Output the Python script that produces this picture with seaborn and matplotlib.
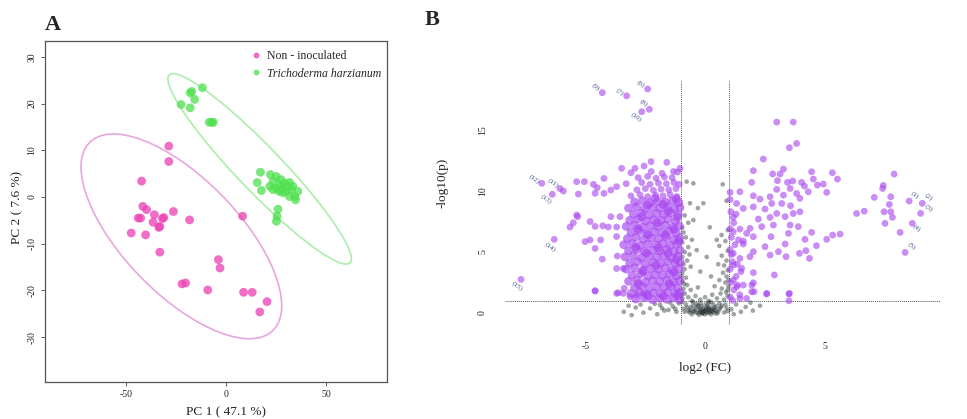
import numpy as np
import pandas as pd
import matplotlib
matplotlib.use("Agg")
import matplotlib.pyplot as plt
import seaborn as sns
from matplotlib.patches import Ellipse
from matplotlib.lines import Line2D

# ---------------- Panel A data (PCA scores) ----------------
pink_pc1 = [-28.6, -28.6, -42.2, -41.6, -39.7, -43.9, -42.7, -35.8, -36.5, -33.6,
            -33.1, -31.1, -31.8, -26.3, -47.4, -40.2, -33.1, -18.2, 8.3, -3.8,
            -3.0, -22.0, -20.2, -9.1, 8.8, 13.1, 20.5, 16.9]
pink_pc2 = [10.9, 7.6, 3.4, -2.0, -2.7, -4.5, -4.5, -3.8, -5.4, -6.5,
            -6.3, -4.4, -4.6, -3.1, -7.7, -8.1, -11.8, -4.9, -4.1, -13.4,
            -15.2, -18.6, -18.4, -19.9, -20.4, -20.4, -22.4, -24.6]
green_pc1 = [-17.1, -17.9, -11.8, -15.7, -22.5, -17.9, -8.4, -7.1, -6.3,
             17.2, 15.6, 17.7, 22.2, 25.2, 27.6, 23.5, 26.8, 29.3, 31.8, 33.4,
             35.9, 34.4, 31.8, 30.1, 27.6, 25.2, 21.9, 23.5, 28.5, 26.5, 32.6,
             30.5, 34.8, 26.0, 25.5, 25.2]
green_pc2 = [22.6, 22.3, 23.4, 20.9, 19.8, 19.1, 16.0, 16.0, 16.0,
             5.3, 3.1, 1.4, 4.8, 4.4, 3.7, 3.4, 2.6, 3.0, 3.1, 2.3,
             1.2, 0.1, 0.1, 1.2, 1.7, 1.9, 2.3, 1.6, 0.9, 1.2, 1.6,
             2.3, -0.6, -2.6, -4.1, -5.2]
groups = ["Non - inoculated", "Trichoderma harzianum"]

# ---------------- Panel B data (volcano) ----------------
# dense core of significant down-regulated features: (log2FC, -log10 p)
purple_core = [
    (-2.9, 1.15), (-2.55, 1.25), (-2.2, 1.1), (-1.9, 1.2), (-1.6, 1.12), (-1.3, 1.25), (-1.08, 1.1),
    (-3.1, 1.6), (-2.75, 1.7), (-2.45, 1.55), (-2.15, 1.65), (-1.85, 1.58), (-1.55, 1.7), (-1.25, 1.6), (-1.05, 1.68),
    (-2.95, 2.1), (-2.65, 2.2), (-2.35, 2.05), (-2.02, 2.15), (-1.72, 2.1), (-1.42, 2.2), (-1.15, 2.05),
    (-3.2, 2.6), (-2.85, 2.7), (-2.5, 2.55), (-2.2, 2.65), (-1.9, 2.6), (-1.6, 2.7), (-1.32, 2.55), (-1.06, 2.65),
    (-3.05, 3.1), (-2.7, 3.2), (-2.38, 3.05), (-2.08, 3.15), (-1.78, 3.1), (-1.48, 3.2), (-1.2, 3.05),
    (-3.3, 3.6), (-2.95, 3.7), (-2.6, 3.55), (-2.28, 3.65), (-1.96, 3.6), (-1.66, 3.7), (-1.38, 3.55), (-1.08, 3.65),
    (-3.15, 4.1), (-2.82, 4.2), (-2.5, 4.05), (-2.18, 4.15), (-1.86, 4.1), (-1.55, 4.2), (-1.25, 4.05), (-1.04, 4.15),
    (-3.35, 4.6), (-3.0, 4.7), (-2.66, 4.55), (-2.34, 4.65), (-2.02, 4.6), (-1.72, 4.7), (-1.42, 4.55), (-1.14, 4.65),
    (-3.2, 5.1), (-2.86, 5.2), (-2.54, 5.05), (-2.2, 5.15), (-1.9, 5.1), (-1.6, 5.2), (-1.3, 5.05), (-1.05, 5.15),
    (-3.4, 5.6), (-3.05, 5.7), (-2.72, 5.55), (-2.4, 5.65), (-2.06, 5.6), (-1.76, 5.7), (-1.46, 5.55), (-1.18, 5.65),
    (-3.25, 6.1), (-2.9, 6.2), (-2.58, 6.05), (-2.25, 6.15), (-1.94, 6.1), (-1.62, 6.2), (-1.32, 6.05), (-1.06, 6.15),
    (-3.1, 6.6), (-2.76, 6.7), (-2.44, 6.55), (-2.12, 6.65), (-1.8, 6.6), (-1.5, 6.7), (-1.2, 6.55),
    (-3.3, 7.1), (-2.95, 7.2), (-2.62, 7.05), (-2.3, 7.15), (-1.98, 7.1), (-1.66, 7.2), (-1.36, 7.05), (-1.08, 7.15),
    (-3.15, 7.6), (-2.8, 7.7), (-2.48, 7.55), (-2.16, 7.65), (-1.84, 7.6), (-1.54, 7.7), (-1.24, 7.55),
    (-3.0, 8.1), (-2.66, 8.2), (-2.34, 8.05), (-2.02, 8.15), (-1.72, 8.1), (-1.42, 8.2), (-1.12, 8.05),
    (-3.2, 8.6), (-2.86, 8.7), (-2.52, 8.55), (-2.2, 8.65), (-1.9, 8.6), (-1.58, 8.7), (-1.28, 8.55), (-1.05, 8.65),
    (-2.95, 9.1), (-2.62, 9.2), (-2.3, 9.05), (-1.98, 9.15), (-1.66, 9.1), (-1.36, 9.2), (-1.1, 9.05),
    (-2.4, 1.4), (-1.75, 1.4), (-1.15, 1.45), (-2.8, 2.4), (-1.5, 2.4), (-2.6, 3.4), (-1.3, 3.35),
    (-2.05, 3.9), (-1.2, 4.4), (-2.45, 4.9), (-1.55, 4.9), (-2.9, 5.4), (-1.95, 5.35), (-1.1, 5.9),
    (-2.4, 6.4), (-1.65, 6.4), (-2.8, 6.9), (-1.3, 6.85), (-2.0, 7.4), (-1.15, 7.85), (-2.65, 7.9),
    (-1.55, 8.35), (-2.4, 8.85), (-1.75, 8.9), (-1.2, 9.35), (-2.1, 9.4),
]
# sparser significant down-regulated features
purple_left = [
    (-3.1, 9.6), (-2.72, 9.7), (-2.4, 9.55), (-2.06, 9.65), (-1.76, 9.6), (-1.46, 9.7), (-1.18, 9.55),
    (-2.85, 10.1), (-2.5, 10.2), (-2.16, 10.05), (-1.84, 10.15), (-1.52, 10.1), (-1.22, 10.2),
    (-3.3, 10.6), (-2.65, 10.7), (-2.3, 10.55), (-1.95, 10.65), (-1.62, 10.6), (-1.3, 10.7), (-1.08, 10.55),
    (-2.8, 11.1), (-2.4, 11.2), (-2.05, 11.05), (-1.7, 11.15), (-1.38, 11.1),
    (-3.1, 11.5), (-2.25, 11.6), (-1.8, 11.45), (-1.15, 11.55),
    (-5.37, 10.77), (-5.05, 10.77), (-4.67, 10.55), (-4.51, 10.27), (-4.23, 11.03),
    (-5.30, 9.75), (-4.60, 9.81), (-4.23, 9.81), (-3.94, 10.08), (-3.70, 10.36),
    (-3.49, 11.86), (-2.93, 11.86), (-2.55, 12.05), (-2.26, 12.41), (-1.60, 12.35),
    (-1.32, 11.6), (-1.05, 11.86), (-5.37, 8.03), (-5.33, 7.9), (-5.65, 7.05),
    (-5.51, 7.4), (-4.81, 7.5), (-4.60, 7.1), (-4.28, 7.15), (-4.05, 7.05),
    (-3.94, 7.9), (-3.70, 7.05), (-3.56, 7.9), (-5.02, 5.85), (-4.81, 5.99),
    (-4.60, 5.3), (-4.37, 5.99), (-4.30, 4.42), (-3.70, 6.27), (-3.67, 4.67),
    (-3.70, 3.65), (-3.42, 3.65), (-4.60, 1.8), (-3.63, 1.66), (-3.38, 2.02),
    (-4.6, 1.83), (-3.7, 1.61), (-3.42, 1.61), (-3.14, 1.34), (-2.86, 1.48), (-2.58, 1.61),
    (-4.30, 18.06), (-3.28, 17.8), (-2.40, 18.36), (-2.33, 16.7), (-2.65, 16.5),
    (-6.83, 10.63), (-6.07, 10.2), (-5.93, 10.0), (-6.39, 9.73), (-6.31, 6.04), (-7.70, 2.76),
]
# significant up-regulated features
purple_right = [
    (3.0, 15.65), (3.69, 15.65), (3.83, 13.9), (3.53, 13.55), (2.44, 12.62), (2.02, 11.67),
    (2.83, 11.4), (3.14, 11.4), (3.28, 11.8), (1.95, 10.71), (3.03, 10.85), (3.45, 10.71),
    (3.67, 10.82), (4.04, 10.71), (4.16, 10.41), (4.46, 11.58), (4.53, 10.98), (4.70, 10.49),
    (4.95, 10.57), (5.09, 9.89), (5.33, 11.5), (5.54, 10.98), (1.05, 9.89), (1.46, 9.94),
    (2.02, 9.61), (2.30, 9.34), (2.72, 9.53), (3.0, 10.13), (3.28, 9.66), (3.56, 10.21),
    (3.83, 9.8), (3.97, 9.4), (4.32, 9.94), (1.32, 8.98), (1.60, 8.57), (2.02, 8.7),
    (2.51, 8.52), (2.79, 8.98), (3.21, 8.98), (3.58, 8.79), (3.97, 8.3), (3.69, 8.16),
    (3.0, 8.16), (2.23, 7.7), (2.72, 7.84), (3.35, 7.9), (1.18, 7.84), (1.46, 6.88),
    (1.74, 6.53), (1.88, 6.94), (2.37, 7.08), (2.86, 7.21), (3.56, 7.21), (3.90, 7.08),
    (1.18, 6.67), (2.02, 6.26), (2.76, 6.26), (3.49, 6.53), (4.46, 6.61), (4.18, 6.04),
    (5.09, 6.04), (5.34, 6.39), (5.65, 6.47), (4.66, 5.52), (3.95, 4.89), (4.22, 5.11),
    (3.35, 5.66), (3.07, 5.03), (2.51, 5.44), (2.02, 5.03), (1.60, 5.66), (1.18, 4.89),
    (1.46, 4.48), (1.88, 4.62), (2.72, 4.75), (3.39, 4.62), (4.37, 4.48), (1.18, 3.94),
    (1.53, 3.66), (2.02, 3.31), (2.90, 3.12), (1.18, 2.70), (1.60, 2.29), (2.02, 2.48),
    (1.95, 1.75), (2.58, 1.61), (3.53, 1.61), (3.51, 1.56), (3.51, 1.0), (2.58, 1.56),
    (1.96, 2.3), (2.05, 1.75), (1.46, 1.2), (1.74, 1.2), (1.33, 2.16),
    (1.05, 1.3), (1.2, 1.9), (1.08, 2.5), (1.3, 3.0), (1.05, 3.6), (1.15, 4.2),
    (1.35, 4.0), (1.05, 5.2), (1.25, 5.6), (1.1, 6.2), (1.4, 6.0), (1.05, 6.9),
    (1.2, 7.4), (1.08, 8.3), (1.3, 8.1), (1.05, 9.3), (1.15, 1.05), (1.45, 1.5),
    (1.1, 4.8), (1.5, 3.4), (1.6, 5.9), (1.35, 2.3),
    (6.34, 8.16), (6.66, 8.35), (7.08, 9.48), (7.43, 10.21), (7.46, 10.46), (7.91, 11.39),
    (7.77, 9.53), (7.71, 8.9), (7.49, 8.3), (7.77, 8.3), (7.84, 7.84), (7.53, 7.35),
    (8.16, 6.61),
    (8.54, 9.18), (9.09, 8.99), (9.02, 8.17), (8.67, 7.35), (8.37, 4.97),
]
# non-significant features
grey_pts = [
    (-3.4, 0.1), (-3.07, -0.17), (-2.9, 0.45), (-2.58, 0.03), (-2.3, 0.38), (-2.1, 0.75),
    (-1.88, 0.66), (-1.7, 0.2), (-1.53, 0.25), (-1.35, 0.55), (-1.2, 0.1), (-1.1, 0.8),
    (-2.7, 0.7), (-3.2, 0.6), (-2.0, -0.1), (-1.45, 0.85), (-1.8, 0.4), (-1.25, 0.35),
    (1.1, 0.3), (1.3, 0.7), (1.5, 0.1), (1.7, 0.5), (2.0, 0.2), (1.2, -0.1), (2.3, 0.6), (1.9, 0.85),
    (-0.5, 0.1), (-0.3, 0.0), (-0.1, 0.05), (0.1, 0.0), (0.3, 0.1), (0.45, 0.2), (-0.4, 0.35),
    (-0.2, 0.3), (0.0, 0.25), (0.2, 0.3), (0.4, 0.45), (-0.6, 0.5), (-0.15, 0.55), (0.1, 0.6),
    (0.35, 0.7), (-0.35, 0.75), (0.6, 0.3), (-0.7, 0.2), (0.7, 0.6), (-0.8, 0.7), (0.0, -0.1),
    (-0.25, -0.15), (0.25, -0.1), (0.5, -0.05), (-0.55, -0.1), (0.8, 0.05), (-0.9, 0.35), (0.9, 0.4),
    (-0.05, 0.15), (0.15, 0.2), (-0.45, 0.2), (0.05, 0.4), (-0.3, 0.5), (0.3, 0.35), (-0.1, -0.05),
    (0.2, 0.05), (-0.2, 0.1), (0.4, 0.0), (-0.65, 0.05), (0.6, 0.8), (-0.5, 0.9), (0.15, 0.85),
    (-0.12, 0.0), (0.08, 0.1), (-0.02, 0.2), (0.12, 0.35), (-0.22, 0.22), (0.28, 0.18),
    (-0.38, 0.05), (0.38, 0.28), (-0.08, 0.38), (0.18, 0.48), (-0.28, 0.62), (0.02, 0.7),
    (0.48, 0.55), (-0.48, 0.6), (0.55, 0.1), (-0.6, 0.25), (0.65, 0.45), (-0.75, 0.45),
    (-0.85, 0.1), (0.85, 0.7), (-0.95, 0.9), (0.95, 0.15), (-0.18, 0.8), (0.25, 0.9),
    (-0.95, 1.2), (-0.85, 1.6), (-0.7, 1.3), (-0.55, 1.0), (-0.4, 1.4), (-0.2, 1.1), (0.0, 1.3),
    (0.15, 1.0), (0.3, 1.5), (0.5, 1.2), (0.65, 1.6), (0.8, 1.1), (0.95, 1.4), (-0.9, 2.0),
    (-0.75, 2.3), (-0.6, 1.9), (-0.3, 2.1), (0.4, 2.2), (0.7, 2.0), (0.85, 2.5), (0.95, 1.9),
    (-0.95, 2.6), (-0.8, 2.9), (0.6, 2.7), (0.9, 3.0), (-0.98, 1.5), (-0.88, 2.4), (-0.98, 3.0),
    (0.98, 2.2), (0.88, 1.7), (0.98, 2.7),
    (-0.95, 3.3), (-0.85, 3.6), (-0.9, 4.0), (-0.75, 4.3), (-0.95, 4.6), (-0.85, 5.0),
    (-0.7, 5.4), (-0.95, 5.8), (-0.8, 6.2), (-0.9, 6.6), (-0.6, 3.8), (-0.65, 4.8),
    (-0.55, 6.0), (-0.95, 7.0), (-0.7, 7.4), (-0.85, 8.0), (-0.35, 5.16), (-0.49, 7.62),
    (0.95, 3.5), (0.8, 3.9), (0.9, 4.3), (0.7, 4.7), (0.95, 5.1), (0.6, 5.5), (0.85, 5.9),
    (0.69, 6.4), (0.49, 6.0), (0.2, 7.03), (0.95, 6.8), (0.75, 3.3), (0.55, 4.0),
    (0.07, 4.6), (-0.07, 9.0), (-0.49, 10.63), (0.74, 10.55), (-0.2, 3.4), (0.25, 3.0),
    (-0.3, 8.6), (0.9, 9.2), (-0.77, 10.77), (-0.63, 9.0),
]
label_ids = ["(1)", "(2)", "(3)", "(4)", "(5)", "(6)", "(7)", "(8)", "(9)", "(10)",
             "(11)", "(12)", "(13)", "(14)", "(15)"]
label_fc = [8.54, 9.09, 9.02, 8.67, 8.37, -2.40, -3.28, -2.33, -4.30, -2.65,
            -6.07, -6.83, -6.39, -6.31, -7.70]
label_p = [9.18, 8.99, 8.17, 7.35, 4.97, 18.36, 17.8, 16.7, 18.06, 16.5,
           10.2, 10.63, 9.73, 6.04, 2.76]
fc_threshold = 1.0
p_threshold = 1.0

# ---------------- styling ----------------
sns.set_theme(style="white")
plt.rcParams['font.family'] = ['Liberation Serif', 'DejaVu Serif']
plt.rcParams['axes.unicode_minus'] = False

PINK = "#ec3fb4"
GREEN = "#4ee04e"
PURPLE = "#a848f0"
GREY = "#1a2626"

fig = plt.figure(figsize=(9.67, 4.19), dpi=100)

# ================= Panel A =================
axA = fig.add_axes([45/967, 1-382/419, 342/967, 341/419])
dfA = pd.DataFrame({
    "PC1": pink_pc1 + green_pc1,
    "PC2": pink_pc2 + green_pc2,
    "group": [groups[0]] * len(pink_pc1) + [groups[1]] * len(green_pc1),
})


def conf_ellipse(x, y, ax, color):
    x = np.asarray(x); y = np.asarray(y)
    cov = np.cov(x, y)
    vals, vecs = np.linalg.eigh(cov)
    order = vals.argsort()[::-1]
    vals, vecs = vals[order], vecs[:, order]
    angle = np.degrees(np.arctan2(vecs[1, 0], vecs[0, 0]))
    k = np.sqrt(5.991)
    w, h = 2 * k * np.sqrt(vals)
    ax.add_patch(Ellipse((x.mean(), y.mean()), w, h, angle=angle, fill=False,
                         ec=color, lw=1.2, zorder=1))


conf_ellipse(pink_pc1, pink_pc2, axA, "#e9a6dd")
conf_ellipse(green_pc1, green_pc2, axA, "#abeeab")

sns.scatterplot(data=dfA, x="PC1", y="PC2", hue="group",
                palette={groups[0]: PINK, groups[1]: GREEN},
                s=40, alpha=0.75, edgecolor="none", legend=False, ax=axA, zorder=3)

axA.set_xlim(-90.5, 80.5)
axA.set_ylim(-39.6, 33.4)
axA.set_xticks([-50, 0, 50])
axA.set_yticks([-30, -20, -10, 0, 10, 20, 30])
axA.tick_params(axis="both", labelsize=7, length=3, width=0.6, color="#444",
                direction="out", pad=3, left=True, bottom=True, labelcolor="#222")
for lab in axA.get_yticklabels():
    lab.set_rotation(90)
    lab.set_va("center")
for sp in axA.spines.values():
    sp.set_color("#555555")
    sp.set_linewidth(0.9)
axA.set_xlabel("PC 1 ( 47.1 %)", fontsize=9.5, color="#222")
axA.set_ylabel("PC 2 ( 7.6 %)", fontsize=9.5, color="#222")
axA.xaxis.set_label_coords(0.529, -0.072)
axA.yaxis.set_label_coords(-0.064, 0.513)

handles = [Line2D([], [], marker="o", ls="", ms=3.2, color=PINK, alpha=0.7),
           Line2D([], [], marker="o", ls="", ms=3.2, color=GREEN, alpha=0.7)]
leg = axA.legend(handles, groups, loc="upper left",
                 bbox_to_anchor=((243-45)/342, (382-42)/341),
                 frameon=False, fontsize=8.5, handlelength=0.8, handletextpad=0.5,
                 labelspacing=0.45, borderpad=0.2)
leg.get_texts()[1].set_style("italic")

fig.text(53/967, 1-25/419, "A", fontsize=16, fontweight="bold", ha="center", va="center")

# ================= Panel B =================
axB = fig.add_axes([505/967, 1-325/419, 440/967, 245/419])
grey_df = pd.DataFrame(grey_pts, columns=["fc", "p"])
core_df = pd.DataFrame(purple_core, columns=["fc", "p"])
pl_df = pd.DataFrame(purple_left + purple_right, columns=["fc", "p"])

sns.scatterplot(data=grey_df, x="fc", y="p", ax=axB, color=GREY, alpha=0.42,
                s=11, edgecolor="none", linewidth=0, zorder=2)
sns.scatterplot(data=core_df, x="fc", y="p", ax=axB, color=PURPLE, alpha=0.68,
                s=40, edgecolor="none", linewidth=0, zorder=3)
sns.scatterplot(data=pl_df, x="fc", y="p", ax=axB, color=PURPLE, alpha=0.62,
                s=24, edgecolor="none", linewidth=0, zorder=3)

axB.axvline(-fc_threshold, color="#555", lw=0.7, ls=(0, (1, 1)), zorder=1)
axB.axvline(fc_threshold, color="#555", lw=0.7, ls=(0, (1, 1)), zorder=1)
axB.axhline(p_threshold, color="#555", lw=0.7, ls=(0, (1, 1)), zorder=1,
            xmin=0.0, xmax=(940-505)/440)

offsets_px = [(6, 6), (6, 6), (8, 5), (4, -5), (7, 6), (-7, 5), (-7, 4), (-6, 6),
              (-7, 6), (-6, -5), (-7, 6), (-8, 4), (-6, -5), (-4, -8), (-4, -7)]
for lab, fx, py, (dx, dy) in zip(label_ids, label_fc, label_p, offsets_px):
    axB.annotate(lab, (fx, py), xytext=(dx * 0.72, dy * 0.72), textcoords="offset points",
                 fontsize=5.2, color="#3d4f86", rotation=-35, ha="center", va="center")

axB.set_xlim(-8.37, 10.04)
axB.set_ylim(-0.98, 19.1)
axB.set_xticks([-5, 0, 5])
axB.set_yticks([0, 5, 10, 15])
for sp in axB.spines.values():
    sp.set_visible(False)
axB.tick_params(axis="x", labelsize=7, length=0, pad=12, labelcolor="#222")
axB.tick_params(axis="y", labelsize=7, length=0, pad=13, labelcolor="#222")
for lab in axB.get_yticklabels():
    lab.set_rotation(90)
    lab.set_va("center")
axB.set_xlabel("log2 (FC)", fontsize=9.5, color="#222")
axB.set_ylabel("-log10(p)", fontsize=9.5, color="#222")
axB.xaxis.set_label_coords((705-505)/440, -0.15)
axB.yaxis.set_label_coords(-0.128, 0.58)

fig.text(432/967, 1-20/419, "B", fontsize=16, fontweight="bold", ha="center", va="center")

fig.savefig("out.png", dpi=100, facecolor="white")
